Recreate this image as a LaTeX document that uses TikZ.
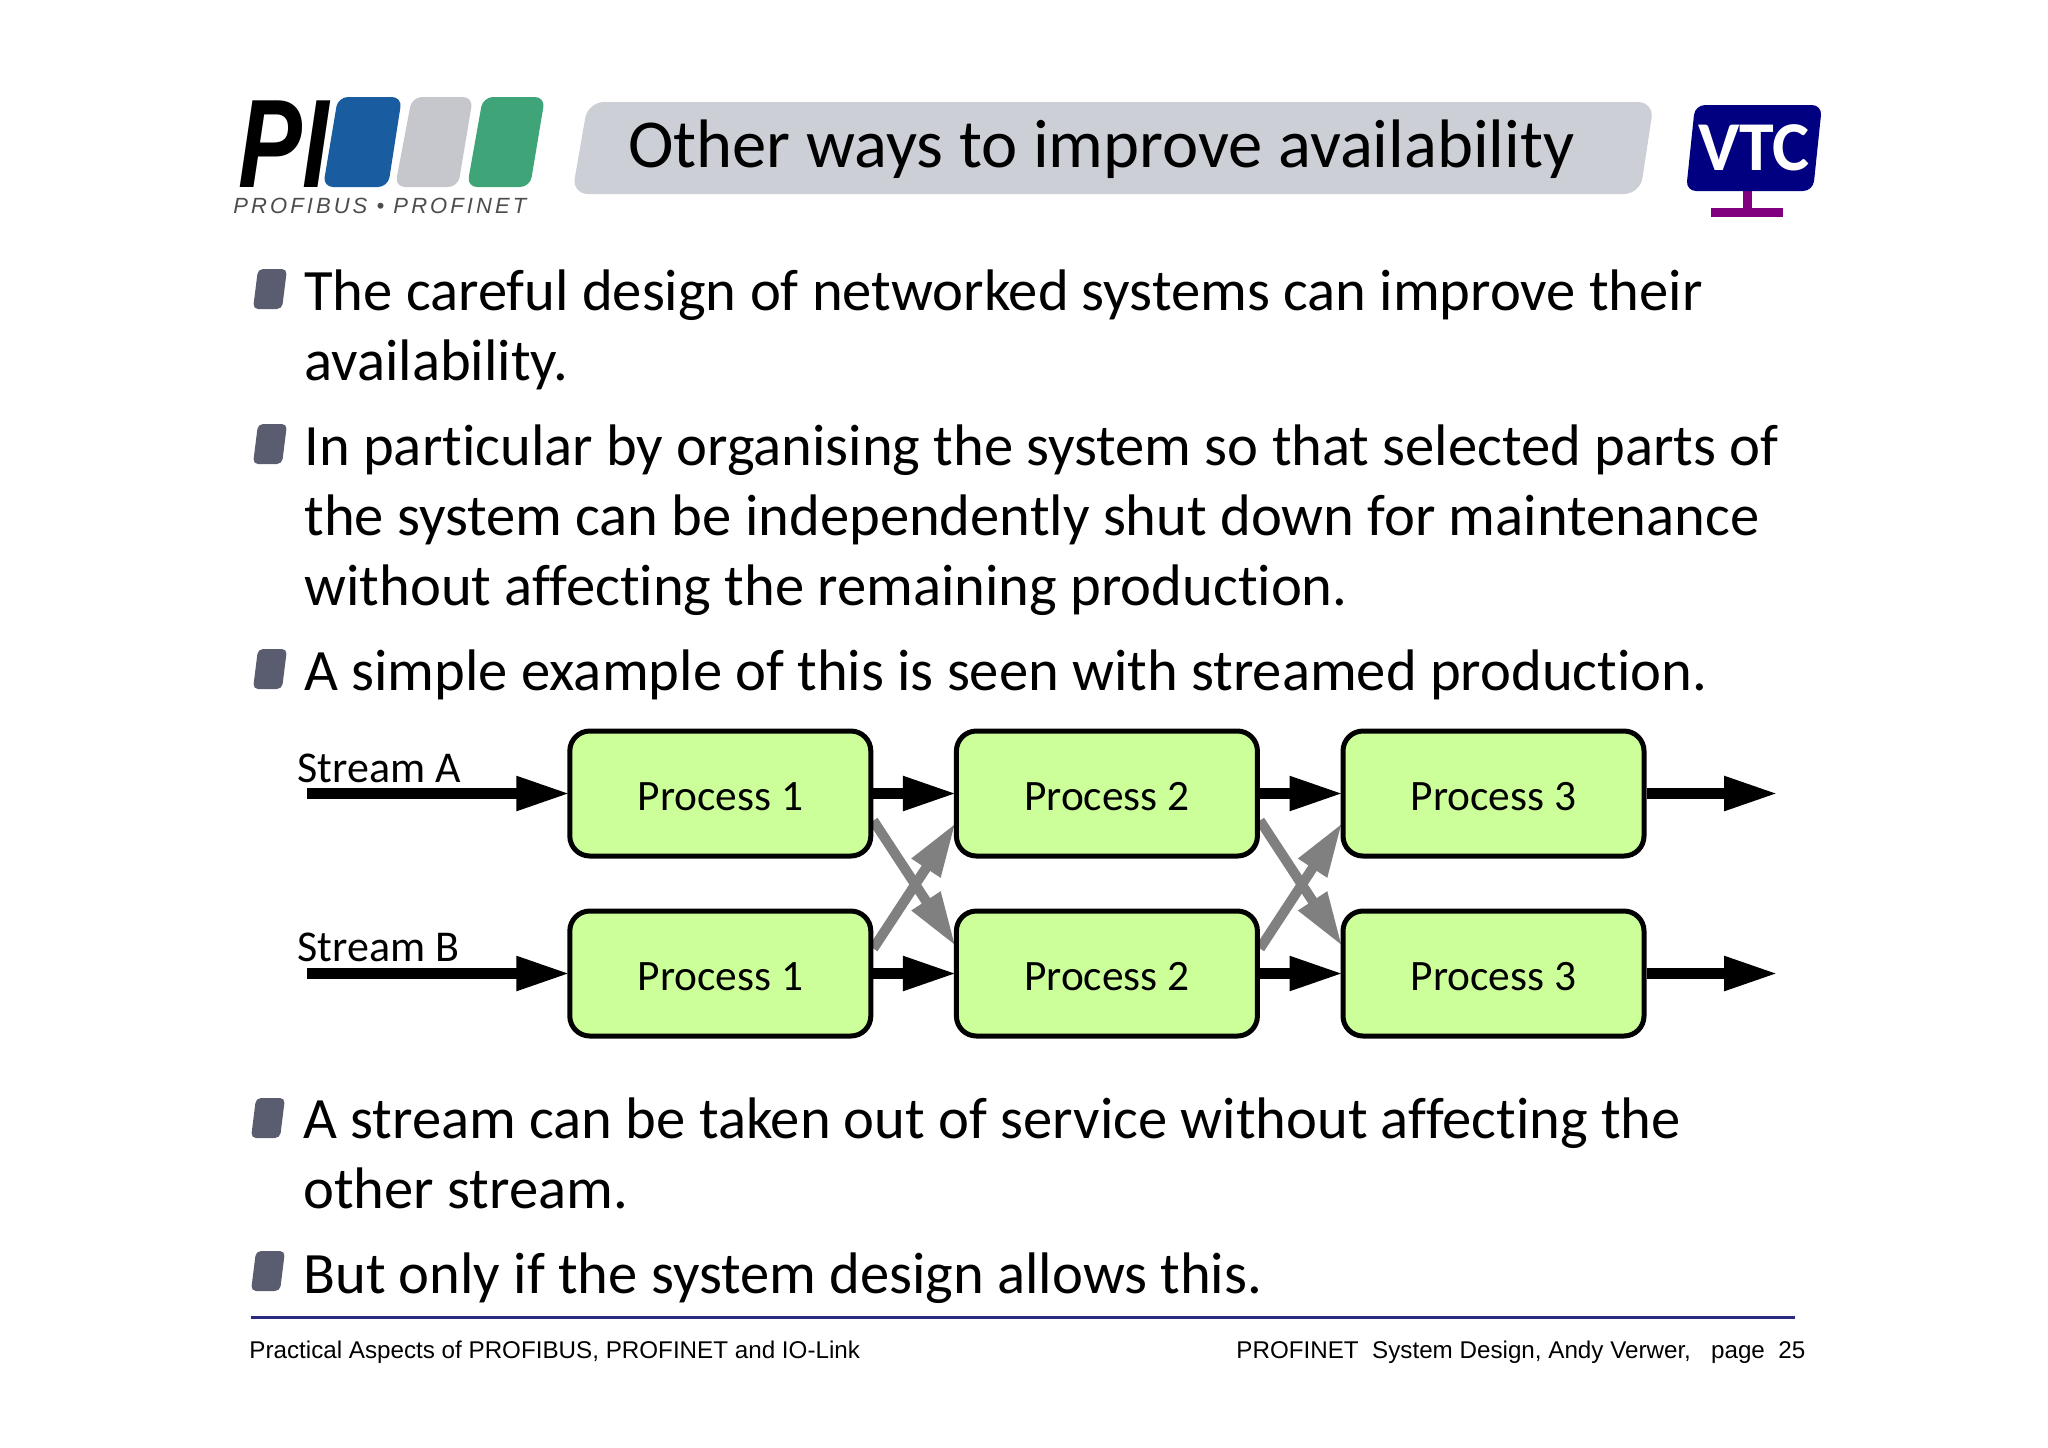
\documentclass[tikz,border=0pt]{standalone}
\usepackage{graphicx}
\usepackage{fontspec}
\setmainfont{Carlito}[Ligatures=NoCommon]
\newfontfamily\arialfont{Liberation Sans}
\usetikzlibrary{arrows.meta, positioning, backgrounds}

\definecolor{procgreen}{HTML}{CCFF99}
\definecolor{titlegray}{HTML}{CDCFD6}
\definecolor{bulletgray}{HTML}{5A5C70}
\definecolor{piblue}{HTML}{1A5CA0}
\definecolor{pigray}{HTML}{C6C7CC}
\definecolor{pigreen}{HTML}{3FA477}
\definecolor{vtcnavy}{HTML}{000080}
\definecolor{vtcpurple}{HTML}{800080}
\definecolor{rulenavy}{HTML}{2A2A80}

\begin{document}
\begin{tikzpicture}[
    x=0.5pt, y=-0.5pt,
    process/.style={rectangle, draw, rounded corners=10pt, line width=2.5pt, fill=procgreen, minimum width=150.5pt, minimum height=62.5pt, inner sep=0pt, text height=16.7pt, text depth=0pt, font=\fontsize{21.7}{26}\selectfont},
    arrow/.style={-{Triangle[length=27pt,width=16pt]}, line width=5.5pt, shorten >=-1.5pt},
    cross/.style={-{Triangle[length=27pt,width=16pt]}, line width=5pt, gray, shorten >=-1.5pt},
    label/.style={anchor=base west, inner sep=0pt, font=\fontsize{22}{26}\selectfont},
    body/.style={anchor=base west, inner sep=0pt, align=left, font=\fontsize{29.3}{35}\selectfont},
    foot/.style={anchor=base west, inner sep=0pt, font=\arialfont\fontsize{12.1}{15}\selectfont},
    bullet/.style={fill=bulletgray, rounded corners=2.5pt},
    tile/.style={rounded corners=5pt},
    node distance=25pt and 40.3pt
]
\useasboundingbox (0,0) rectangle (2048,1447);

% Logo
\fill[tile, piblue] (338,97) -- (402,97) -- (388,187) -- (323,187) -- cycle;
\fill[tile, pigray] (412,97) -- (473,97) -- (458,187) -- (395,187) -- cycle;
\fill[tile, pigreen] (483,97) -- (545,97) -- (530,187) -- (467,187) -- cycle;
\node[anchor=base west, inner sep=0pt, font=\fontsize{63}{63}\selectfont\arialfont\bfseries\itshape] (pi) at (238,187) {\scalebox{0.76}[1]{PI}};
\node[anchor=base west, inner sep=0pt, text=black!70, font=\arialfont\itshape\fontsize{11}{12}\selectfont\addfontfeature{LetterSpace=14}] (profi) at (233,213) {PROFIBUS • PROFINET};

% Title
\fill[titlegray, rounded corners=8pt] (588,102) -- (1654,102) -- (1640,194) -- (572,194) -- cycle;
\node[anchor=base west, inner sep=0pt, font=\fontsize{34.3}{38}\selectfont] (title) at (628,167) {Other ways to improve availability};

% VTC
\fill[vtcpurple] (1743,191) rectangle (1752,208);
\fill[vtcpurple] (1711,208) rectangle (1783,217);
\fill[vtcnavy, rounded corners=5pt] (1695,105) -- (1822,105) -- (1813,191) -- (1686,191) -- cycle;
\node[anchor=base, inner sep=0pt, text=white, font=\bfseries\fontsize{35}{35}\selectfont] (vtc) at (1754,170) {VTC};

% Bullets
\foreach \bx/\by in {0/0, 0/155, 0/380, -2/829, -2/982}
    \fill[bullet, shift={(\bx,\by)}] (258,269) -- (287,269) -- (282,309) -- (253,309) -- cycle;

% Text
\node[body] (t1) at (304,380) {The careful design of networked systems can improve their\\availability.};
\node[body] (t2) at (304,605) {In particular by organising the system so that selected parts of\\the system can be independently shut down for maintenance\\without affecting the remaining production.};
\node[body] (t3) at (304,690) {A simple example of this is seen with streamed production.};
\node[body] (t4) at (303,1208) {A stream can be taken out of service without affecting the\\other stream.};
\node[body] (t5) at (303,1293) {But only if the system design allows this.};

% Stream A and B
\node[process] (p1a) at (720.3,793.5) {Process 1};
\node[process, right=of p1a] (p2a) {Process 2};
\node[process, right=of p2a] (p3a) {Process 3};
\node[process, below=of p1a] (p1b) {Process 1};
\node[process, right=of p1b] (p2b) {Process 2};
\node[process, right=of p2b] (p3b) {Process 3};

\node[label] (streama) at (297,782) {Stream A};
\node[label] (streamb) at (297,961) {Stream B};

\coordinate[left=130pt of p1a.west] (ina);
\coordinate[left=130pt of p1b.west] (inb);
\coordinate[right=64.3pt of p3a.east] (outa);
\coordinate[right=64.3pt of p3b.east] (outb);

% Arrow Connections
\draw[arrow] (ina) -- (p1a);
\draw[arrow] (inb) -- (p1b);
\draw[arrow] (p1a) -- (p2a);
\draw[arrow] (p2a) -- (p3a);
\draw[arrow] (p1b) -- (p2b);
\draw[arrow] (p2b) -- (p3b);
\draw[arrow] (p3a) -- (outa);
\draw[arrow] (p3b) -- (outb);

\begin{scope}[on background layer]
    \draw[cross] ([yshift=-13.5pt]p1a.east) -- ([yshift=15pt]p2b.west);
    \draw[cross] ([yshift=12.5pt]p1b.east) -- ([yshift=-16pt]p2a.west);
    \draw[cross] ([yshift=-13.5pt]p2a.east) -- ([yshift=15pt]p3b.west);
    \draw[cross] ([yshift=12.5pt]p2b.east) -- ([yshift=-16pt]p3a.west);
\end{scope}

% Footer
\coordinate (rulel) at (251,1317);
\coordinate (ruler) at (1795,1317);
\draw[rulenavy, line width=1.5pt] (rulel) -- (ruler);
\node[foot] (footl) at (249,1358) {Practical Aspects of PROFIBUS, PROFINET and IO-Link};
\node[foot] (footr) at (1236,1358) {PROFINET\ \ System Design, Andy Verwer,\ \ \ page\ \ 25};
\end{tikzpicture}
\end{document}
